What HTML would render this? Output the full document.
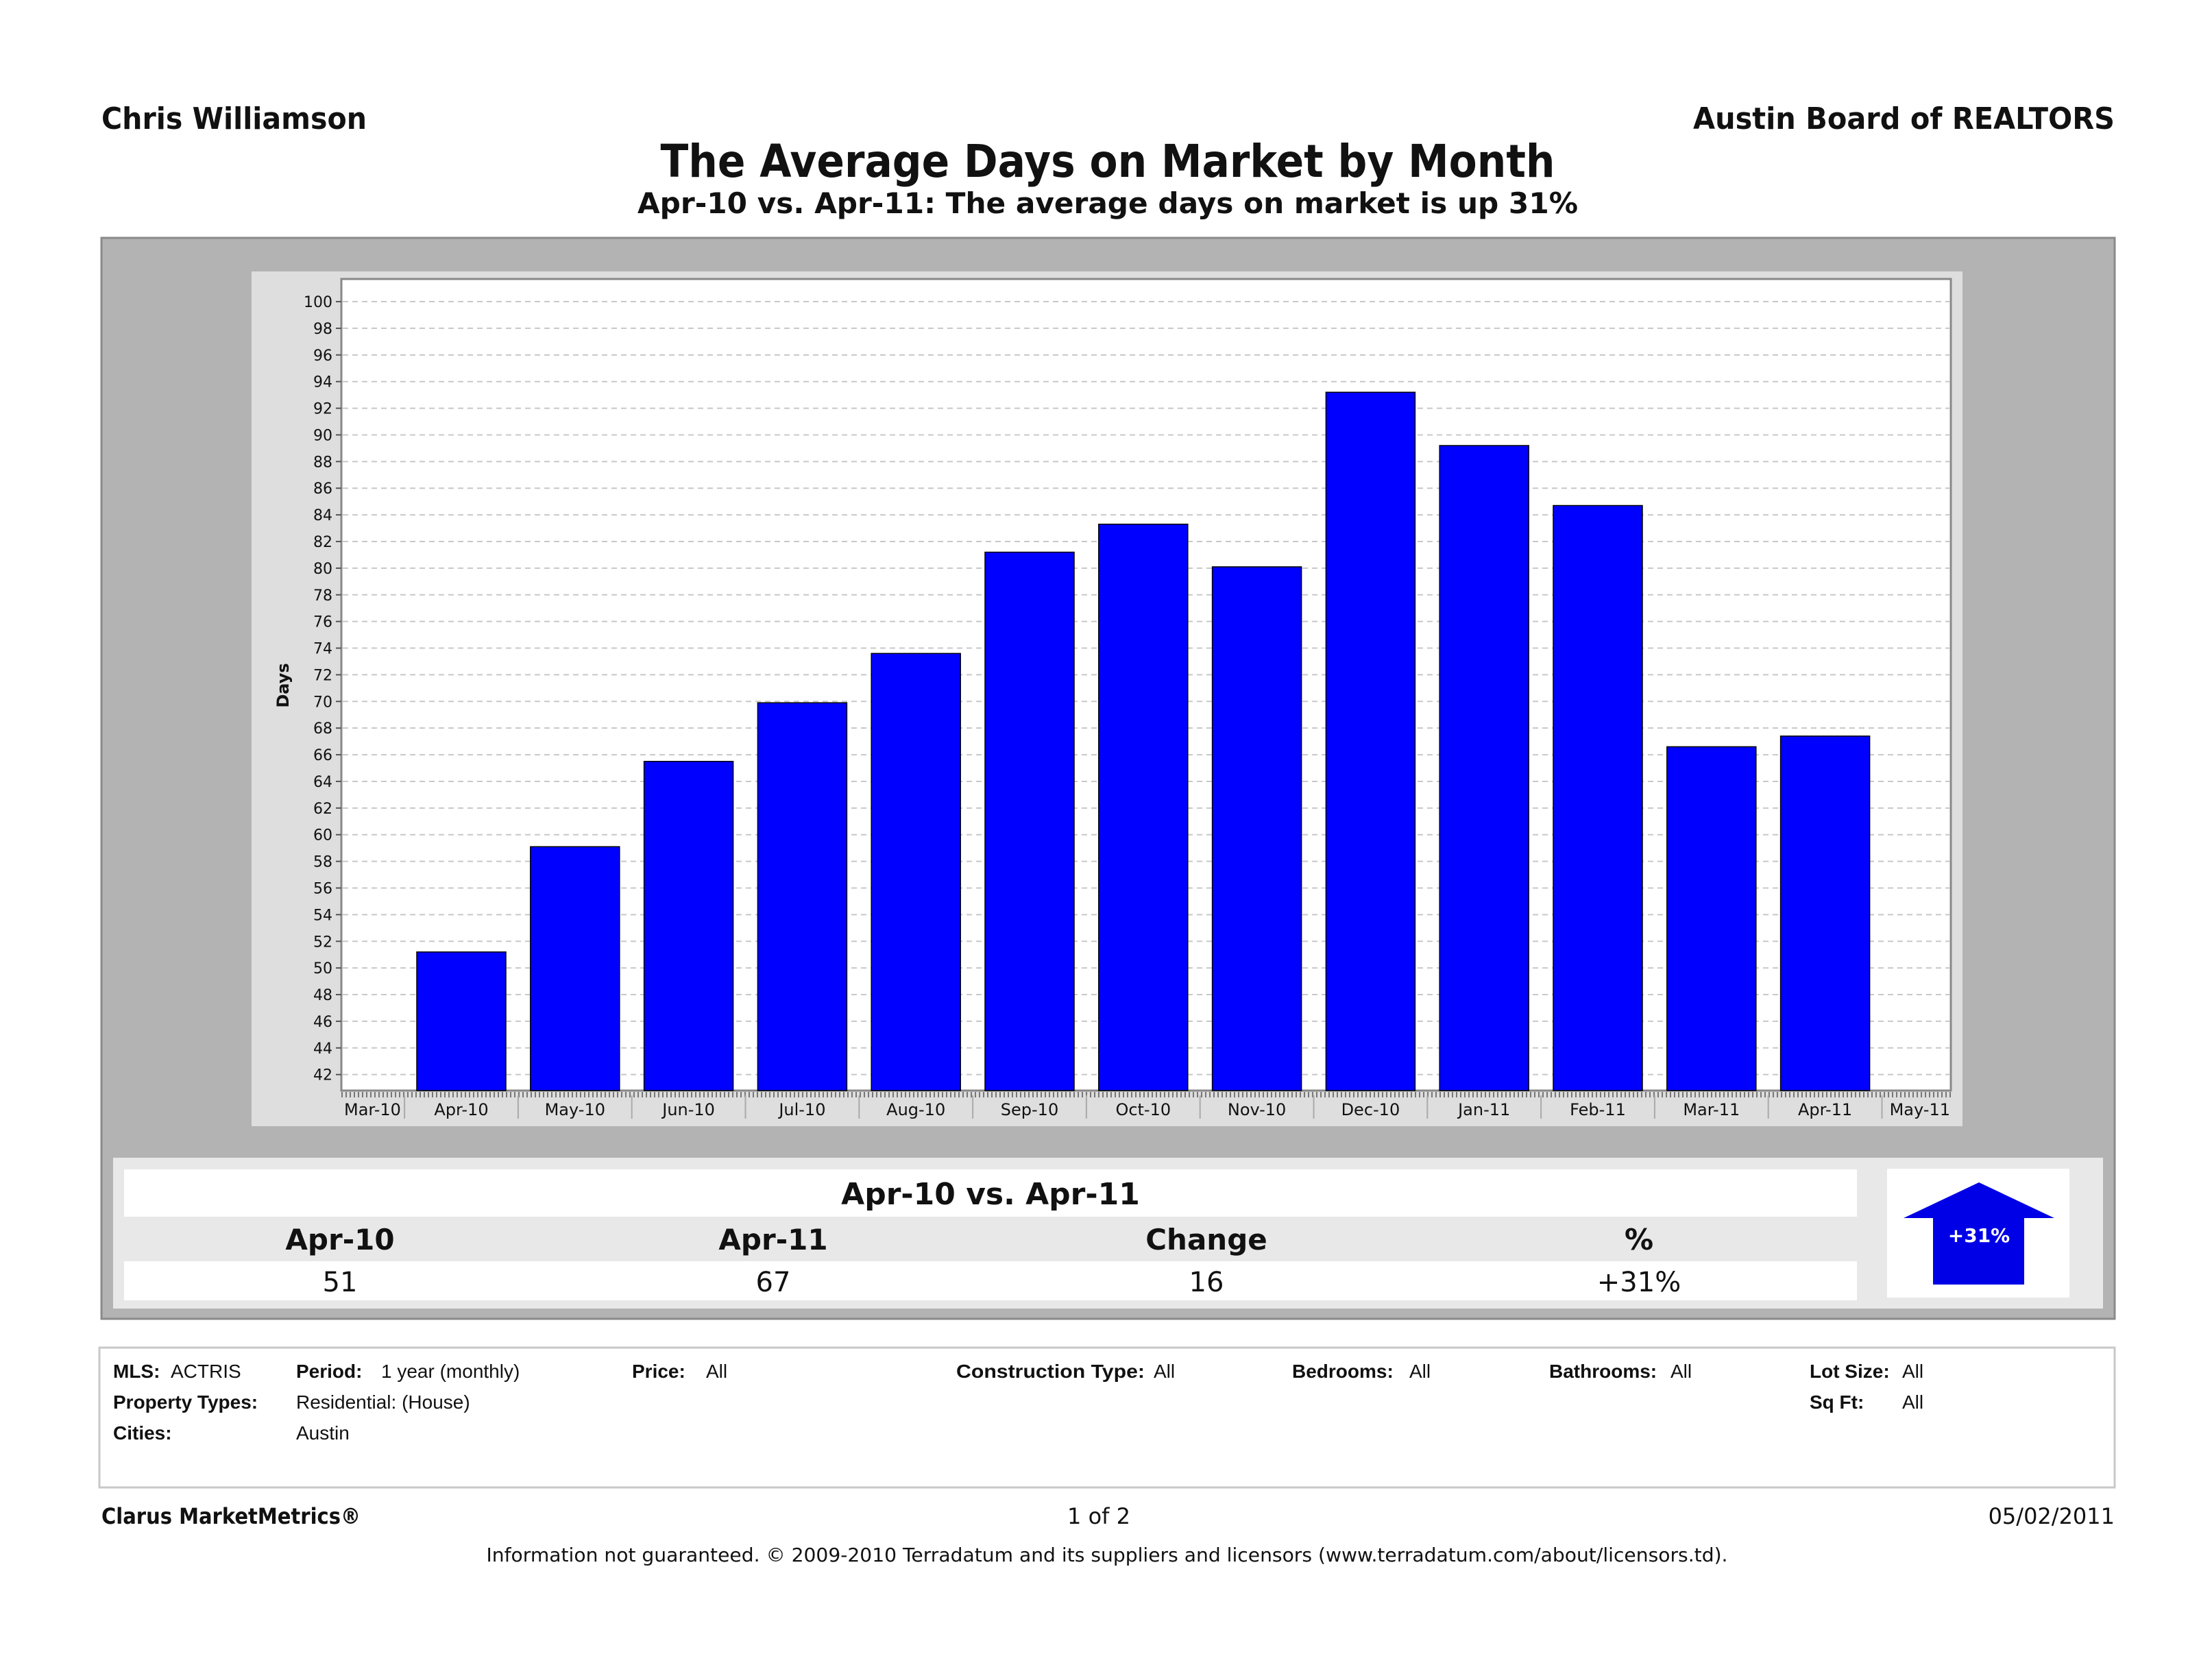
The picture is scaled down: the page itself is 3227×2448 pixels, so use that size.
<!DOCTYPE html>
<html><head><meta charset="utf-8"><style>
html,body{margin:0;padding:0;background:#fff;}
svg{display:block;font-family:"DejaVu Sans","Liberation Sans",sans-serif;}
</style></head><body>
<svg id="root" width="3227" height="2448" viewBox="0 0 3227 2448" xmlns="http://www.w3.org/2000/svg">
<rect width="3227" height="2448" fill="#fff"/>
<text x="148" y="188" font-size="44" font-weight="bold" fill="#111" textLength="387" lengthAdjust="spacingAndGlyphs">Chris Williamson</text>
<text x="3085" y="188" font-size="44" font-weight="bold" fill="#111" text-anchor="end" textLength="615" lengthAdjust="spacingAndGlyphs">Austin Board of REALTORS</text>
<text x="1616" y="258" font-size="66" font-weight="bold" fill="#111" text-anchor="middle" textLength="1305" lengthAdjust="spacingAndGlyphs">The Average Days on Market by Month</text>
<text x="1616" y="311" font-size="42" font-weight="bold" fill="#111" text-anchor="middle" textLength="1372" lengthAdjust="spacingAndGlyphs">Apr-10 vs. Apr-11:  The average days on market is up 31%</text>

<rect x="148" y="347" width="2937" height="1577" fill="#b3b3b3" stroke="#8a8a8a" stroke-width="3"/>
<rect x="367" y="396" width="2496" height="1247" fill="#dedede"/>
<rect x="498" y="407" width="2348" height="1184" fill="#fff" stroke="#888" stroke-width="3"/>
<g id="grid"></g>
<g id="bars"></g>
<g id="yaxis"></g>
<g id="xaxis"></g>
<text x="0" y="0" transform="translate(421,1000) rotate(-90)" font-size="24" font-weight="bold" text-anchor="middle" fill="#111">Days</text>

<rect x="165" y="1689" width="2903" height="220" fill="#e8e8e8"/>
<rect x="181" y="1706" width="2528" height="69" fill="#fff"/>
<rect x="181" y="1840" width="2528" height="57" fill="#fff"/>
<text x="1445" y="1757" font-size="44" font-weight="bold" text-anchor="middle" fill="#111">Apr-10 vs. Apr-11</text>
<text x="496" y="1823" font-size="42" font-weight="bold" text-anchor="middle" fill="#111">Apr-10</text>
<text x="1128" y="1823" font-size="42" font-weight="bold" text-anchor="middle" fill="#111">Apr-11</text>
<text x="1760" y="1823" font-size="42" font-weight="bold" text-anchor="middle" fill="#111">Change</text>
<text x="2391" y="1823" font-size="42" font-weight="bold" text-anchor="middle" fill="#111">%</text>
<text x="496" y="1884" font-size="40" text-anchor="middle" fill="#111">51</text>
<text x="1128" y="1884" font-size="40" text-anchor="middle" fill="#111">67</text>
<text x="1760" y="1884" font-size="40" text-anchor="middle" fill="#111">16</text>
<text x="2391" y="1884" font-size="40" text-anchor="middle" fill="#111">+31%</text>
<rect x="2753" y="1705" width="266" height="188" fill="#fff"/>
<polygon points="2887,1725 2997,1777 2953,1777 2953,1874 2820,1874 2820,1777 2777,1777" fill="#0000e6"/>
<text x="2887" y="1812" font-size="28" font-weight="bold" text-anchor="middle" fill="#fff">+31%</text>

<rect x="145" y="1966" width="2940" height="204" fill="#fff" stroke="#c8c8c8" stroke-width="3"/>
<g font-size="28" fill="#111" font-family="Liberation Sans, sans-serif">
<text x="165" y="2010" font-weight="bold">MLS:</text><text x="249" y="2010">ACTRIS</text>
<text x="432" y="2010" font-weight="bold">Period:</text><text x="556" y="2010">1 year (monthly)</text>
<text x="922" y="2010" font-weight="bold">Price:</text><text x="1030" y="2010">All</text>
<text x="1395" y="2010" font-weight="bold" textLength="275" lengthAdjust="spacingAndGlyphs">Construction Type:</text><text x="1683" y="2010">All</text>
<text x="1885" y="2010" font-weight="bold">Bedrooms:</text><text x="2056" y="2010">All</text>
<text x="2260" y="2010" font-weight="bold">Bathrooms:</text><text x="2437" y="2010">All</text>
<text x="2640" y="2010" font-weight="bold">Lot Size:</text><text x="2775" y="2010">All</text>
<text x="165" y="2055" font-weight="bold">Property Types:</text><text x="432" y="2055">Residential: (House)</text>
<text x="2640" y="2055" font-weight="bold">Sq Ft:</text><text x="2775" y="2055">All</text>
<text x="165" y="2100" font-weight="bold">Cities:</text><text x="432" y="2100">Austin</text>
</g>
<text x="148" y="2223" font-size="32" font-weight="bold" fill="#111" textLength="378" lengthAdjust="spacingAndGlyphs">Clarus MarketMetrics®</text>
<text x="1603" y="2223" font-size="32" fill="#111" text-anchor="middle">1 of 2</text>
<text x="3085" y="2223" font-size="32" fill="#111" text-anchor="end">05/02/2011</text>
<text x="1615" y="2278" font-size="28" fill="#111" text-anchor="middle" textLength="1811" lengthAdjust="spacingAndGlyphs">Information not guaranteed.  © 2009-2010 Terradatum and its suppliers and licensors (www.terradatum.com/about/licensors.td).</text>
</svg>
<script>
const categories = ["Apr-10","May-10","Jun-10","Jul-10","Aug-10","Sep-10","Oct-10","Nov-10","Dec-10","Jan-11","Feb-11","Mar-11","Apr-11"];
const daysValues = [51.2,59.1,65.5,69.9,73.6,81.2,83.3,80.1,93.2,89.2,84.7,66.6,67.4];
const axisLabels = ["Mar-10","Apr-10","May-10","Jun-10","Jul-10","Aug-10","Sep-10","Oct-10","Nov-10","Dec-10","Jan-11","Feb-11","Mar-11","Apr-11","May-11"];
const yTicks = [42,44,46,48,50,52,54,56,58,60,62,64,66,68,70,72,74,76,78,80,82,84,86,88,90,92,94,96,98,100];
const NS = "http://www.w3.org/2000/svg";
const yMin = 40.8, yMax = 101.7, plotTop = 407, plotBottom = 1591, plotLeft = 498, plotRight = 2846;
function yScale(v){ return plotBottom - (v - yMin) / (yMax - yMin) * (plotBottom - plotTop); }
const firstCenter = 673, step = 165.8;
function xScale(i){ return firstCenter + (i - 1) * step; }
function mk(tag, attrs, parent){ const e = document.createElementNS(NS, tag); for (const k in attrs) e.setAttribute(k, attrs[k]); parent.appendChild(e); return e; }
const grid = document.getElementById('grid'), bars = document.getElementById('bars'), ya = document.getElementById('yaxis'), xa = document.getElementById('xaxis');
yTicks.forEach(t => {
  const y = yScale(t);
  const g = mk('line', {x1: plotLeft + 2, x2: plotRight - 2, y1: y, y2: y, stroke: '#c8c8c8', 'stroke-width': 2, 'stroke-dasharray': '8,6'}, grid);
  
  
  mk('line', {x1: plotLeft - 8, x2: plotLeft, y1: y, y2: y, stroke: '#555', 'stroke-width': 2}, ya);
  const tx = mk('text', {x: 485, y: y + 8, 'font-size': 22, 'text-anchor': 'end', fill: '#111'}, ya);
  tx.textContent = t;
  
  
});
daysValues.forEach((v, i) => {
  const cx = xScale(i + 1), y = yScale(v);
  const r = mk('rect', {x: cx - 65, y: y, width: 130, height: plotBottom - y, fill: '#0000ff', stroke: '#000', 'stroke-width': 1.5}, bars);
  
  
});
mk('line', {x1: plotLeft, x2: plotRight, y1: plotBottom + 6, y2: plotBottom + 6, stroke: '#777', 'stroke-width': 8, 'stroke-dasharray': '2,4'}, xa);
axisLabels.forEach((l, i) => {
  let cx = xScale(i), anchor = 'middle';
  if (i === 0) { cx = 502; anchor = 'start'; }
  if (i === axisLabels.length - 1) { cx = 2845; anchor = 'end'; }
  const tx = mk('text', {x: cx, y: 1627, 'font-size': 24, 'text-anchor': anchor, fill: '#111'}, xa);
  tx.textContent = l;
  
  
  if (i < axisLabels.length - 1) {
    const sx = xScale(i) + step / 2;
    mk('line', {x1: sx, x2: sx, y1: 1598, y2: 1632, stroke: '#aaa', 'stroke-width': 2}, xa);
  }
});
</script>
</body></html>
